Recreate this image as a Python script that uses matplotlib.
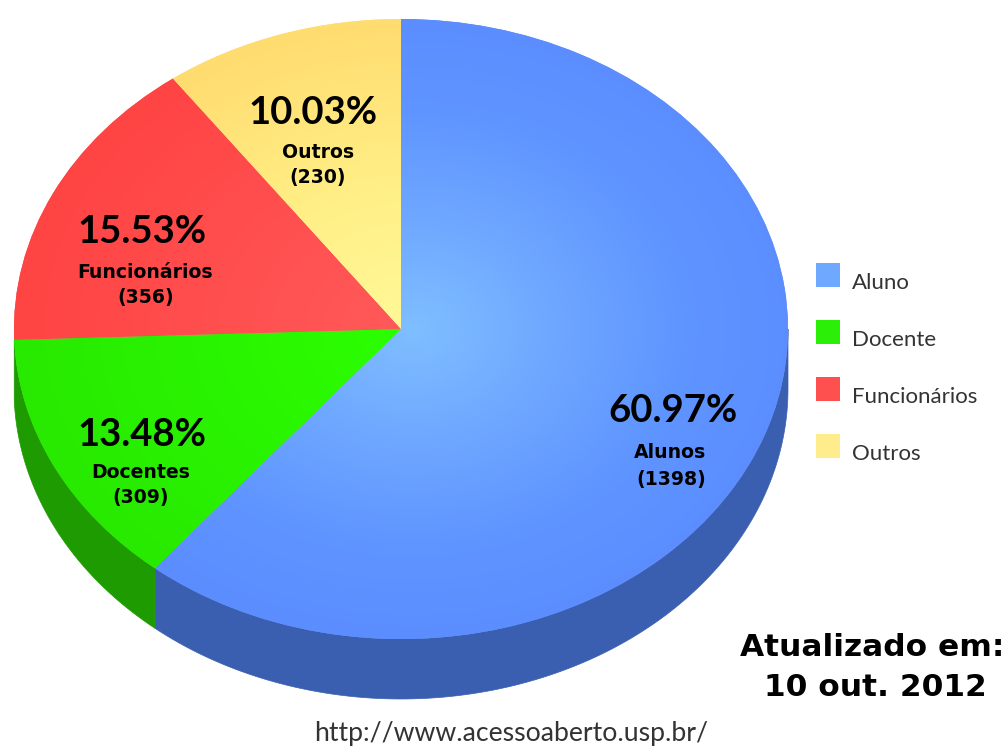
import matplotlib
matplotlib.use('Agg')
import matplotlib.pyplot as plt
import numpy as np
from matplotlib.colors import LinearSegmentedColormap
from matplotlib.patches import Polygon, Rectangle

# data
legend_labels = ['Aluno', 'Docente', 'Funcionários', 'Outros']
slice_names = ['Alunos', 'Docentes', 'Funcionários', 'Outros']
counts = [1398, 309, 356, 230]
percents = [60.97, 13.48, 15.53, 10.03]
colors = ['#5B8DFF', '#28EE00', '#FF4646', '#FFDF75']
wall_colors = ['#3B5FB0', '#1E9B00']
# radial shading, centre to rim
shades = [
    [(0, '#7FBEFF'), (0.35, '#6FA8FF'), (0.7, '#5F95FF'), (1, '#5B8DFF')],
    [(0, '#2CFF00'), (1, '#28EA00')],
    [(0, '#FF5A5A'), (1, '#FF4444')],
    [(0, '#FFF998'), (0.5, '#FFEE85'), (1, '#FFDC70')],
]

# pixel geometry of the ellipse
W, H = 1008, 747
cx, cy, rx, ry = 401, 329, 387, 310
depth = 60 / ry


def px(x, y):
    return (x - cx) / rx, (cy - y) / ry


fig = plt.figure(figsize=(W / 100, H / 100), dpi=100)
ax = fig.add_axes([0, 0, 1, 1])

# side wall, visible only on the lower half (Aluno and Docente reach it)
angle = 90.0
total = sum(counts)
for c, wc in zip(counts, wall_colors):
    a0 = angle - 360.0 * c / total
    a1 = angle
    angle = a0
    for shift in (0, 360):
        lo = max(a0 + shift, 180)
        hi = min(a1 + shift, 360)
        if hi <= lo:
            continue
        t = np.radians(np.linspace(lo, hi, 120))
        top = np.column_stack([np.cos(t), np.sin(t)])
        bottom = top[::-1] - [0, depth]
        ax.add_patch(Polygon(np.vstack([top, bottom]), closed=True, facecolor=wc,
                             edgecolor=wc, linewidth=0.5, zorder=1))

# top face
wedges, _ = ax.pie(counts, colors=colors, startangle=90, counterclock=False, radius=1)
for w in wedges:
    w.set_zorder(2)

# radial shading clipped to each slice
gx, gy = np.meshgrid(np.linspace(-1, 1, 500), np.linspace(-1, 1, 500))
r = np.clip(np.hypot(gx - 0.03, gy), 0, 1)
for w, shade in zip(wedges, shades):
    cmap = LinearSegmentedColormap.from_list('shade', shade)
    im = ax.imshow(r, extent=(-1, 1, -1, 1), origin='lower', cmap=cmap, vmin=0, vmax=1,
                   aspect='auto', zorder=3)
    im.set_clip_path(w)

ax.set_aspect('auto')
ax.set_xlim((0 - cx) / rx, (W - cx) / rx)
ax.set_ylim((cy - H) / ry, cy / ry)
ax.axis('off')

# slice labels
pct_font = dict(family='Lato', fontweight='bold', fontsize=27.5, ha='center', va='center', color='black')
name_font = dict(family='DejaVu Sans', fontweight='bold', fontsize=13.6, ha='center', va='center', color='black')
pct_pos = [(673, 411), (142, 435), (142, 232), (313, 113)]
name_pos = [(670, 453), (141, 473), (145, 272), (318, 153)]
count_pos = [(671, 480), (141, 498), (146, 298), (318, 178)]
for i in range(len(counts)):
    ax.text(*px(*pct_pos[i]), f'{percents[i]:.2f}%', zorder=5, **pct_font)
    ax.text(*px(*name_pos[i]), slice_names[i], zorder=5, **name_font)
    ax.text(*px(*count_pos[i]), f'({counts[i]})', zorder=5, **name_font)

# legend
swatches = ['#6FA8FF', '#2CEF08', '#FF5050', '#FFEC8C']
for i, lab in enumerate(legend_labels):
    sx, sy = px(816, 287 + 57 * i)
    ax.add_patch(Rectangle((sx, sy), 24 / rx, 24 / ry, facecolor=swatches[i], edgecolor='none', zorder=4))
    ax.text(*px(852, 283 + 57 * i), lab, family='Lato', fontsize=16, ha='left', va='center',
            color='#333333', zorder=5)

# notes
ax.text(*px(872, 647), 'Atualizado em:', family='DejaVu Sans', fontweight='bold', fontsize=22.5,
        ha='center', va='center', color='black', zorder=5)
ax.text(*px(875, 688), '10 out. 2012', family='DejaVu Sans', fontweight='bold', fontsize=22.5,
        ha='center', va='center', color='black', zorder=5)
ax.text(*px(511, 733), 'http://www.acessoaberto.usp.br/', family='Lato', fontsize=19.2,
        ha='center', va='center', color='#333333', zorder=5)

fig.savefig('out.png', dpi=100)
